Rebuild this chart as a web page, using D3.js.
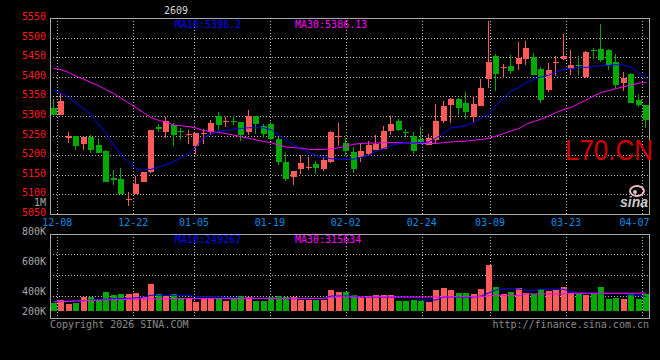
<!DOCTYPE html>
<html><head><meta charset="utf-8">
<script src="https://cdn.jsdelivr.net/npm/d3@7/dist/d3.min.js"></script>
<style>
html,body{margin:0;padding:0;background:#000;}
svg{display:block;}
text{font-family:"DejaVu Sans Mono","Liberation Mono",monospace;font-size:10px;}
</style>
</head><body>
<svg id="c" width="660" height="360"></svg>
<script>
const dates = ["12-05","12-08","12-09","12-10","12-11","12-12","12-15","12-16","12-17","12-18","12-19","12-22","12-23","12-24","12-25","12-26","12-29","12-30","12-31",
"01-05","01-06","01-07","01-08","01-09","01-12","01-13","01-14","01-15","01-16","01-19","01-20","01-21","01-22","01-23","01-26","01-27","01-28","01-29","01-30",
"02-02","02-03","02-04","02-05","02-06","02-09","02-10","02-11","02-12","02-13","02-24","02-25","02-26","02-27",
"03-02","03-03","03-04","03-05","03-06","03-09","03-10","03-11","03-12","03-13","03-16","03-17","03-18","03-19","03-20","03-23","03-24","03-25","03-26","03-27","03-30","03-31",
"04-01","04-02","04-03","04-07","04-08"];
const openP  = [5320,5303,5244,5249,5229,5246,5225,5211,5142,5139, 5087,5100,5132,5157,5272,5259,5276,5262,5252,5224,
                5254,5259,5299,5284,5288,5284,5259,5299,5274,5279, 5241,5182,5145,5164,5170,5177,5166,5183,5247,5231,
                5208,5196,5203,5214,5217,5261,5287,5258,5249,5241, 5227,5239,5287,5327,5344,5334,5298,5326,5395,5452,
                5423,5427,5432,5446,5450,5421,5366,5438,5446,5421, 5431,5399,5469,5470,5469,5438,5384,5407,5340,5327];
const highP  = [5343,5355,5258,5249,5246,5251,5243,5212,5162,5167, 5106,5146,5157,5264,5279,5298,5281,5270,5265,5256,
                5268,5289,5310,5298,5299,5284,5315,5299,5279,5284, 5247,5206,5160,5200,5196,5186,5196,5262,5282,5243,
                5221,5228,5237,5251,5274,5299,5292,5268,5259,5271, 5255,5330,5338,5347,5345,5361,5350,5394,5542,5458,
                5433,5455,5488,5491,5460,5425,5435,5452,5509,5468, 5452,5465,5474,5534,5470,5458,5412,5409,5357,5327];
const lowP   = [5303,5303,5231,5213,5213,5206,5206,5132,5123,5100, 5071,5100,5132,5155,5258,5244,5224,5239,5229,5203,
                5228,5251,5264,5271,5276,5237,5251,5255,5244,5239, 5174,5135,5123,5152,5162,5153,5159,5180,5224,5200,
                5155,5183,5200,5213,5215,5251,5262,5244,5204,5231, 5225,5231,5282,5282,5302,5293,5285,5325,5372,5363,
                5397,5407,5417,5431,5404,5333,5361,5402,5443,5404, 5404,5398,5445,5438,5418,5370,5363,5334,5323,5270];
const closeP = [5303,5338,5249,5224,5246,5213,5206,5132,5137,5100, 5089,5126,5157,5264,5267,5288,5251,5258,5254,5256,
                5257,5282,5276,5287,5285,5251,5299,5279,5255,5242, 5183,5139,5160,5180,5171,5167,5187,5259,5249,5210,
                5164,5210,5225,5228,5261,5279,5264,5256,5210,5231, 5245,5287,5326,5344,5320,5309,5330,5371,5437,5407,
                5426,5415,5449,5473,5404,5340,5417,5439,5452,5429, 5429,5463,5467,5444,5429,5379,5397,5334,5327,5290];
const ma10 = [5366,5358,5347,5333,5318,5303,5278,5255,5225,5200, 5183,5166,5162,5164,5170,5176,5184,5193,5204,5222,
              5245,5255,5261,5264,5267,5268,5270,5270,5270,5265, 5251,5238,5226,5215,5208,5199,5194,5191,5190,5189,
              5190,5195,5200,5210,5217,5225,5230,5231,5231,5232, 5234,5244,5256,5270,5272,5276,5283,5295,5306,5328,
              5345,5364,5372,5385,5393,5400,5404,5413,5419,5421, 5423,5424,5427,5428,5429,5431,5430,5424,5410,5396.2];
const ma30 = [5422,5418,5411,5401,5394,5385,5377,5367,5357,5345, 5333,5321,5308,5295,5289,5284,5277,5275,5273,5269,
              5263,5260,5258,5255,5251,5247,5243,5239,5235,5232, 5226,5221,5219,5218,5215,5214,5215,5216,5219,5223,
              5228,5230,5231,5231,5232,5232,5232,5231,5231,5230, 5230,5230,5232,5234,5235,5236,5238,5240,5243,5249,
              5255,5262,5268,5279,5286,5292,5300,5309,5316,5322, 5332,5341,5351,5360,5365,5370,5375,5379,5384,5386.13];
const volume = [145000,187000,123000,145000,245000,250000,210000,333000,280000,298000, 298000,315000,245000,473000,298000,257000,292000,233000,233000,163000,
                210000,233000,233000,175000,210000,257000,250000,180000,180000,245000, 263000,250000,245000,198000,198000,198000,198000,368000,333000,333000,
                280000,245000,263000,280000,280000,280000,175000,175000,198000,175000, 163000,368000,403000,368000,310000,315000,298000,385000,805000,420000,
                298000,333000,403000,315000,298000,385000,350000,368000,420000,315000, 298000,280000,298000,420000,210000,228000,210000,298000,210000,298000];
const volMa10 = [170000,170000,170000,175000,180000,190000,200000,210000,215000,218000, 222000,230000,245000,275000,275000,275000,275000,275000,275000,250000,
                 250000,250000,250000,233000,233000,222000,222000,222000,222000,222000, 222000,215000,215000,215000,215000,215000,215000,263000,263000,263000,
                 263000,240000,240000,240000,240000,240000,240000,240000,240000,193000, 193000,193000,245000,245000,245000,245000,245000,263000,315000,368000,
                 385000,385000,385000,362000,362000,380000,380000,380000,380000,338000, 315000,315000,315000,303000,303000,303000,303000,280000,280000,249267];
const volMa30 = [158000,165000,170000,175000,180000,185000,190000,193000,195000,200000, 205000,208000,210000,210000,212000,212000,214000,215000,216000,218000,
                 218000,219000,220000,220000,221000,221000,222000,222000,222000,222000, 222000,222000,222000,222000,222000,222000,222000,233000,245000,245000,
                 245000,245000,245000,245000,245000,245000,245000,245000,245000,245000, 245000,245000,245000,250000,250000,250000,250000,250000,268000,268000,
                 268000,268000,268000,298000,298000,298000,298000,298000,298000,310000, 310000,310000,310000,310000,310000,310000,310000,310000,312000,315634];
const priceTicks = [5550,5500,5450,5400,5350,5300,5250,5200,5150,5100,5050];
const dateTicks = ["12-08","12-22","01-05","01-19","02-02","02-24","03-09","03-23","04-07"];
const volTickValues = [800000,600000,400000,200000];
const volTickLabels = ["800K","600K","400K","200K"];
const title = "2609";
const watermark = "L70.CN";

const RED = "#ff5a5a", GREEN = "#00aa00", GRID = "#bdbdbd", FRAME = "#a8a8a8";
const svg = d3.select("#c");
svg.append("rect").attr("width",660).attr("height",360).attr("fill","#000");

const L = 50, R = 650;
const mainTop = 18, mainBot = 214;
const volTop = 234, volBot = 318, volBase = 311;

const idx = d3.range(dates.length);
const x = d3.scaleBand().domain(idx).range([L, R]).paddingInner(0.2).paddingOuter(0.1);
const gx = d3.scaleLinear().domain([dates.indexOf("12-08"), dates.indexOf("03-23")]).range([57.3, 566]);
const y = d3.scaleLinear().domain([5050, 5550]).range([mainBot, mainTop]);
const yv = d3.scaleLinear().domain([0, 1347500]).range([volBase, volTop]);
const yvLab = d3.scaleLinear().domain([400000, 800000]).range([291, 231]);

const px = v => Math.round(v) + 0.5;

// ---------- grids ----------
function hgrid(g, ys){
  g.selectAll(null).data(ys).join("line")
    .attr("x1", L).attr("x2", R).attr("y1", d => px(d)).attr("y2", d => px(d))
    .attr("stroke", GRID).attr("stroke-dasharray", "1,2").attr("shape-rendering","crispEdges");
}
function vgrid(g, y1, y2){
  const xs = dateTicks.map(t => gx(dates.indexOf(t))).filter(v => v < R - 6);
  g.selectAll(null).data(xs).join("line")
    .attr("x1", d => px(d)).attr("x2", d => px(d)).attr("y1", y1).attr("y2", y2)
    .attr("stroke", GRID).attr("stroke-dasharray", "1,2").attr("shape-rendering","crispEdges");
}
const gGrid = svg.append("g");
hgrid(gGrid, priceTicks.slice(1, -1).map(y));
vgrid(gGrid, mainTop, mainBot);
hgrid(gGrid, [0.25, 0.5, 0.75].map(f => volTop + f * (volBot - volTop) - 1));
vgrid(gGrid, volTop, volBot + 2);

// frames
svg.append("rect").attr("x", L + 0.5).attr("y", mainTop + 0.5).attr("width", R - L - 1).attr("height", mainBot - mainTop)
  .attr("fill","none").attr("stroke", FRAME).attr("shape-rendering","crispEdges");
svg.append("rect").attr("x", L + 0.5).attr("y", volTop + 0.5).attr("width", R - L - 1).attr("height", volBot - volTop)
  .attr("fill","none").attr("stroke", FRAME).attr("shape-rendering","crispEdges");

// watermark
svg.append("text").attr("x", 565).attr("y", 160).text(watermark)
  .style("font-family","'Liberation Sans',Arial,sans-serif").style("font-size","30px")
  .attr("textLength", 88).attr("lengthAdjust","spacingAndGlyphs").attr("fill","#d40000");
const logo = svg.append("g");
logo.append("ellipse").attr("cx", 637).attr("cy", 191).attr("rx", 7).attr("ry", 5)
  .attr("fill","none").attr("stroke","#f2b6bf").attr("stroke-width", 2);
logo.append("circle").attr("cx", 635).attr("cy", 192).attr("r", 2).attr("fill","#c8c8c8");
logo.append("text").attr("x", 620).attr("y", 207).text("sina")
  .style("font-family","'Liberation Sans',Arial,sans-serif").style("font-size","14px")
  .style("font-style","italic").style("font-weight","bold").attr("fill","#c8c8c8");

// ---------- candles ----------
const gC = svg.append("g").attr("shape-rendering","crispEdges");
idx.forEach(i => {
  const o = openP[i], c = closeP[i], h = highP[i], l = lowP[i];
  const col = c >= o ? RED : GREEN;
  const x0 = Math.round(x(i));
  const yh = Math.round(y(h)), yl = Math.round(y(l));
  gC.append("rect").attr("x", x0 + 2).attr("y", yh).attr("width", 1).attr("height", Math.max(1, yl - yh)).attr("fill", col);
  const yt = Math.round(y(Math.max(o, c))), yb = Math.round(y(Math.min(o, c)));
  gC.append("rect").attr("x", x0).attr("y", yt).attr("width", Math.round(x.bandwidth())).attr("height", Math.max(1, yb - yt)).attr("fill", col);
});

// price MA lines
svg.append("clipPath").attr("id","cm").append("rect").attr("x", L+1).attr("y", mainTop+1).attr("width", R-L-2).attr("height", mainBot-mainTop-1);
const lineP = arr => d3.line().x((d,i) => x(i) + x.bandwidth()/2).y(d => y(d))(arr);
svg.append("path").attr("d", lineP(ma30)).attr("fill","none").attr("stroke","#ff00ff").attr("stroke-width",1).attr("clip-path","url(#cm)");
svg.append("path").attr("d", lineP(ma10)).attr("fill","none").attr("stroke","#0000ff").attr("stroke-width",1).attr("clip-path","url(#cm)");

// ---------- volume ----------
const gV = svg.append("g").attr("shape-rendering","crispEdges");
idx.forEach(i => {
  const col = closeP[i] >= openP[i] ? RED : GREEN;
  const x0 = Math.round(x(i));
  const yt = Math.round(yv(volume[i]));
  gV.append("rect").attr("x", x0).attr("y", yt).attr("width", Math.round(x.bandwidth())).attr("height", volBase - yt).attr("fill", col);
});
const lineV = arr => d3.line().x((d,i) => x(i) + x.bandwidth()/2).y(d => yv(d))(arr);
svg.append("path").attr("d", lineV(volMa10)).attr("fill","none").attr("stroke","#0000ff").attr("stroke-width",1);
svg.append("path").attr("d", lineV(volMa30)).attr("fill","none").attr("stroke","#ff00ff").attr("stroke-width",1);

// ---------- texts ----------
svg.append("text").attr("x", 164).attr("y", 10).attr("dominant-baseline","central").attr("fill","#d8d8d8").text(title);
svg.append("text").attr("x", 175).attr("y", 24).attr("dominant-baseline","central").attr("fill","#0000ff")
  .text("MA10:" + ma10[ma10.length-1].toFixed(1));
svg.append("text").attr("x", 295).attr("y", 24).attr("dominant-baseline","central").attr("fill","#ff00ff")
  .text("MA30:" + ma30[ma30.length-1].toFixed(2));
svg.append("text").attr("x", 175).attr("y", 239).attr("dominant-baseline","central").attr("fill","#0000ff")
  .text("MA10:" + Math.round(volMa10[volMa10.length-1]));
svg.append("text").attr("x", 295).attr("y", 239).attr("dominant-baseline","central").attr("fill","#ff00ff")
  .text("MA30:" + Math.round(volMa30[volMa30.length-1]));

svg.append("g").selectAll("text").data(priceTicks).join("text")
  .attr("x", 46).attr("y", d => y(d) - 1.5).attr("text-anchor","end").attr("dominant-baseline","central")
  .attr("fill","#ff1a1a").text(d => d);
svg.append("text").attr("x", 46).attr("y", 202.5).attr("text-anchor","end").attr("dominant-baseline","central")
  .attr("fill","#a8a8a8").text("1M");

svg.append("g").selectAll("text").data(dateTicks).join("text")
  .attr("x", d => Math.min(gx(dates.indexOf(d)), R - 15.5)).attr("y", 222)
  .attr("text-anchor","middle").attr("dominant-baseline","central").attr("fill","#0a8ce6").text(d => d);

svg.append("g").selectAll("text").data(volTickValues).join("text")
  .attr("x", 46).attr("y", d => Math.min(yvLab(d), volBase)).attr("text-anchor","end").attr("dominant-baseline","central")
  .attr("fill","#a8a8a8").text((d,i) => volTickLabels[i]);

svg.append("text").attr("x", 50).attr("y", 324).attr("dominant-baseline","central").attr("fill","#8a8a8a").text("Copyright 2026 SINA.COM");
svg.append("text").attr("x", 649).attr("y", 324).attr("text-anchor","end").attr("dominant-baseline","central").attr("fill","#8a8a8a").text("http://finance.sina.com.cn");
</script>
</body></html>
